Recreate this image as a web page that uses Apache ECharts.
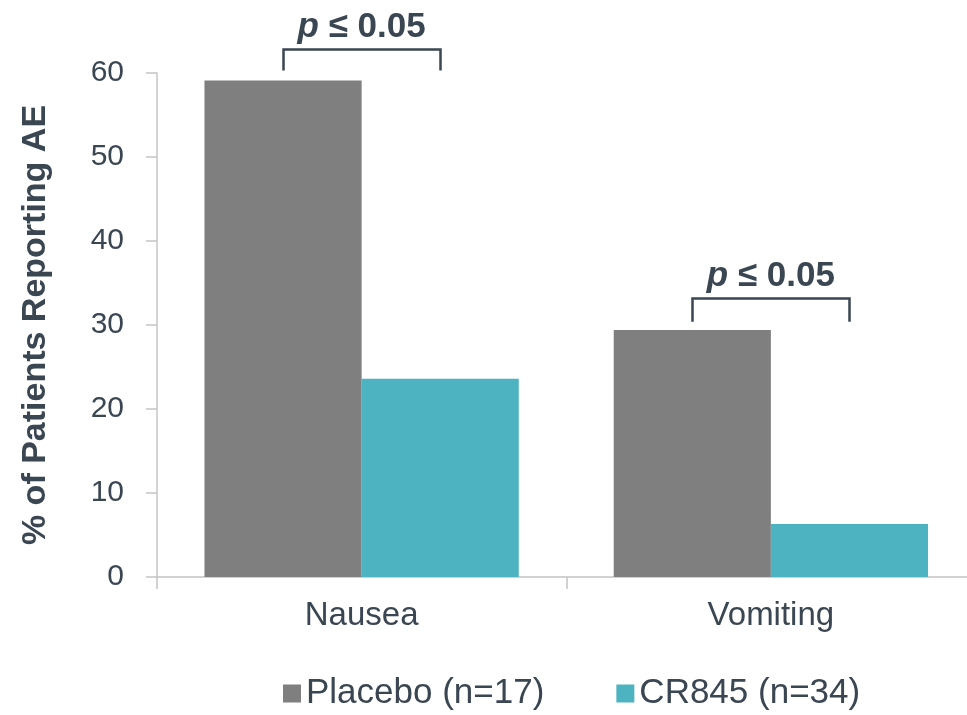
<!DOCTYPE html>
<html>
<head>
<meta charset="utf-8">
<script src="https://cdn.jsdelivr.net/npm/echarts@6/dist/echarts.min.js"></script>
<style>html,body{margin:0;padding:0;background:#fff;overflow:hidden;}#c{width:976px;height:715px;}</style>
</head>
<body>
<div id="c"></div>
<script>
const categories = ['Nausea', 'Vomiting'];
const seriesNames = ['Placebo (n=17)', 'CR845 (n=34)'];
const placebo = [59.1, 29.4];
const cr845 = [23.6, 6.3];
// bracket: [category index, end value, top value]
const brackets = [[0, 60.3, 62.8], [1, 30.4, 33.2]];
const pText = 'p ≤ 0.05';
const yTicks = [0, 10, 20, 30, 40, 50, 60];

const TEXT = '#3a4651';
const FONT = 'Liberation Sans, Arial, sans-serif';
const BAR_FRAC = 0.384;

const chart = echarts.init(document.getElementById('c'), null, {renderer: 'canvas'});
chart.setOption({
  animation: false,
  backgroundColor: '#fff',
  textStyle: {fontFamily: FONT},
  grid: {left: 157, top: 73, right: 0.5, bottom: 138, containLabel: false},
  legend: {
    data: seriesNames,
    left: 278, top: 671,
    itemWidth: 18, itemHeight: 18, itemGap: 72,
    icon: 'rect',
    textStyle: {fontSize: 35, color: TEXT, fontFamily: FONT}
  },
  xAxis: {
    type: 'category',
    data: categories,
    axisLine: {lineStyle: {color: '#c4c4c4', width: 1.5}},
    axisTick: {show: true, length: 12, lineStyle: {color: '#c4c4c4', width: 1.5}},
    axisLabel: {fontSize: 33, color: TEXT, margin: 22, fontFamily: FONT},
    splitLine: {show: false}
  },
  yAxis: {
    type: 'value',
    min: 0, max: 60, interval: 10,
    name: '% of Patients Reporting AE',
    nameLocation: 'middle',
    nameGap: 104,
    nameRotate: 90,
    nameTextStyle: {fontSize: 34, fontWeight: 'bold', color: TEXT, fontFamily: FONT},
    axisLine: {show: true, lineStyle: {color: '#c4c4c4', width: 1.5}},
    axisTick: {show: true, length: 11, lineStyle: {color: '#c4c4c4', width: 1.5}},
    axisLabel: {fontSize: 30, color: TEXT, margin: 33, fontFamily: FONT,
      formatter: v => yTicks.includes(v) ? String(v) : ''},
    splitLine: {show: false}
  },
  series: [
    {name: seriesNames[0], type: 'bar', data: placebo, barWidth: (BAR_FRAC*100)+'%', barGap: '0%',
      itemStyle: {color: '#7f7f7f'}},
    {name: seriesNames[1], type: 'bar', data: cr845, barWidth: (BAR_FRAC*100)+'%', barGap: '0%',
      itemStyle: {color: '#4db3c1'}},
    {
      name: 'brackets', type: 'custom', data: brackets, clip: false, z: 5,
      renderItem: function (params, api) {
        const c = api.value(0);
        const pEnd = api.coord([c, api.value(1)]);
        const pTop = api.coord([c, api.value(2)]);
        const band = api.size([1, 0])[0];
        const half = band * BAR_FRAC / 2;
        const xl = Math.round(pEnd[0] - half) + 0.5;
        const xr = Math.round(pEnd[0] + half) + 0.5;
        const yt = Math.round(pTop[1]) + 0.5;
        return {
          type: 'group',
          children: [
            {type: 'polyline', shape: {points: [[xl, pEnd[1]], [xl, yt], [xr, yt], [xr, pEnd[1]]]},
              style: {stroke: TEXT, lineWidth: 2.5, fill: null}},
            {type: 'text', style: {
              text: '{i|p}{b|' + pText.slice(1) + '}',
              x: pEnd[0], y: yt - 22, align: 'center', verticalAlign: 'middle',
              rich: {
                i: {fontSize: 35, fontWeight: 'bold', fontStyle: 'italic', fill: TEXT, fontFamily: FONT},
                b: {fontSize: 35, fontWeight: 'bold', fill: TEXT, fontFamily: FONT}
              }
            }}
          ]
        };
      }
    }
  ]
});
</script>
</body>
</html>
